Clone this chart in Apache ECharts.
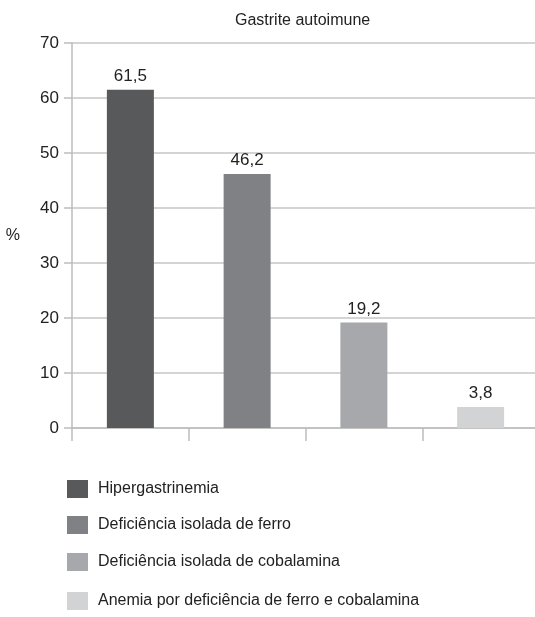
<!DOCTYPE html>
<html>
<head>
<meta charset="utf-8">
<script src="https://cdn.jsdelivr.net/npm/echarts@6/dist/echarts.min.js"></script>
<style>
  html, body { margin: 0; padding: 0; background: #fff; overflow: hidden; }
  /* a few px wider than the window: the last category runs off the right edge */
  #chart { width: 539px; height: 617px; }
</style>
</head>
<body>
<div id="chart"></div>
<script>
const categories = [
  'Hipergastrinemia',
  'Deficiência isolada de ferro',
  'Deficiência isolada de cobalamina',
  'Anemia por deficiência de ferro e cobalamina'
]
const values = [61.5, 46.2, 19.2, 3.8]
const barColors = ['#58595b', '#808184', '#a7a8ab', '#d2d3d5']
const yTicks = [0, 10, 20, 30, 40, 50, 60, 70]
const legendTops = [480, 516, 553, 592]

const FONT = '"Liberation Sans Narrow", "Liberation Sans", Arial, sans-serif'

const chart = echarts.init(document.getElementById('chart'))

// one series per category so every bar gets its own legend entry
const series = categories.map((name, i) => ({
  name,
  type: 'bar',
  barWidth: 47,
  barGap: '-100%',
  data: values.map((v, j) => (j === i ? v : '-')),
  itemStyle: { color: barColors[i] },
  label: {
    show: true,
    position: 'top',
    distance: 5,
    color: '#222',
    fontFamily: FONT,
    fontSize: 17,
    formatter: p => String(p.value).replace('.', ',')
  }
}))

const legends = categories.map((name, i) => ({
  data: [name],
  orient: 'vertical',
  left: 67,
  top: legendTops[i],
  padding: 0,
  itemWidth: 21,
  itemHeight: 18,
  icon: 'rect',
  selectedMode: false,
  textStyle: {
    fontFamily: FONT,
    fontSize: 16,
    color: '#222',
    padding: [0, 0, 0, 5]
  }
}))

chart.setOption({
  animation: false,
  title: {
    text: 'Gastrite autoimune',
    left: 230,
    top: 8,
    textStyle: { fontFamily: FONT, fontSize: 16, fontWeight: 'normal', color: '#222' }
  },
  legend: legends,
  grid: { left: 72, top: 43, right: 0, bottom: 189 },
  xAxis: {
    type: 'category',
    data: categories,
    axisLine: { lineStyle: { color: '#bdbdbd', width: 1.5 } },
    axisTick: { show: true, interval: 0, length: 13, lineStyle: { color: '#bdbdbd', width: 1.5 } },
    axisLabel: { show: false, interval: 0 }
  },
  yAxis: {
    type: 'value',
    min: yTicks[0],
    max: yTicks[yTicks.length - 1],
    interval: 10,
    name: '%',
    nameLocation: 'middle',
    nameRotate: 0,
    nameGap: 52,
    nameTextStyle: { fontFamily: FONT, fontSize: 16, color: '#222' },
    axisLine: { show: true, lineStyle: { color: '#bdbdbd', width: 1.5 } },
    axisTick: { show: true, length: 8, lineStyle: { color: '#bdbdbd', width: 1.5 } },
    axisLabel: { margin: 13, fontFamily: FONT, fontSize: 17, color: '#222' },
    splitLine: { lineStyle: { color: '#c6c6c6', width: 1.5 } }
  },
  series
})
</script>
</body>
</html>
